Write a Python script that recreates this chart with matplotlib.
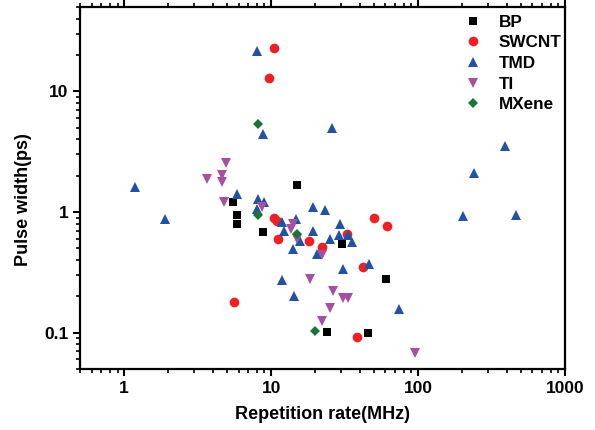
import numpy as np
import matplotlib
matplotlib.use("Agg")
import matplotlib.pyplot as plt
from matplotlib.ticker import FixedLocator, LogLocator, NullFormatter

plt.rcParams['font.family'] = ['Liberation Sans', 'DejaVu Sans']
plt.rcParams['font.weight'] = 'bold'

# repetition rate (MHz), pulse width (ps)
bp_x = [5.54, 5.90, 5.81, 8.74, 14.9, 30.2, 60.3, 23.9, 45.5]
bp_y = [1.20, 0.95, 0.80, 0.68, 1.66, 0.54, 0.28, 0.102, 0.10]

swcnt_x = [10.5, 9.6, 10.4, 10.9, 11.1, 18.0, 22.1, 49.9, 61.3, 32.7, 42.0, 5.63, 38.3]
swcnt_y = [22.9, 12.9, 0.90, 0.85, 0.60, 0.57, 0.51, 0.90, 0.76, 0.66, 0.35, 0.18, 0.092]

tmd_x = [1.19, 1.90, 5.81, 7.95, 8.74, 25.8, 8.08, 8.87, 7.95, 11.9, 12.2, 14.7, 19.2, 23.1,
         19.2, 29.3, 25.0, 28.8, 33.2, 35.3, 14.0, 20.4, 30.7, 46.2, 11.9, 14.4, 74.0,
         391, 240, 202, 465, 15.6]
tmd_y = [1.60, 0.87, 1.40, 21.6, 4.41, 4.94, 1.29, 1.22, 1.05, 0.83, 0.69, 0.88, 1.09, 1.03,
         0.69, 0.80, 0.60, 0.64, 0.65, 0.56, 0.49, 0.45, 0.34, 0.37, 0.275, 0.20, 0.158,
         3.50, 2.09, 0.92, 0.95, 0.58]

ti_x = [4.96, 3.68, 4.66, 4.66, 4.81, 8.6, 14.0, 13.6, 14.9, 22.1, 18.3, 26.2, 25.0, 30.7,
        33.2, 22.1, 95.1]
ti_y = [2.53, 1.86, 2.01, 1.76, 1.20, 1.09, 0.80, 0.72, 0.60, 0.44, 0.28, 0.22, 0.161, 0.195,
        0.195, 0.125, 0.068]

mxene_x = [8.2, 8.08, 15.1, 19.8]
mxene_y = [5.34, 0.95, 0.66, 0.104]

fig = plt.figure(figsize=(5.95, 4.3), dpi=100)
ax = fig.add_axes([80/595, 1-369/430, (565-80)/595, (369-7)/430])

ax.plot(bp_x, bp_y, 's', color='black', ms=6, mew=0, label='BP')
ax.plot(swcnt_x, swcnt_y, 'o', color='#ED2024', ms=7, mew=0, label='SWCNT')
ax.plot(tmd_x, tmd_y, '^', color='#2152A4', ms=7.5, mew=0, label='TMD')
ax.plot(ti_x, ti_y, 'v', color='#A750A1', ms=7.5, mew=0, label='TI')
ax.plot(mxene_x, mxene_y, 'D', color='#1B7535', ms=5.6, mew=0, label='MXene')

ax.set_xscale('log')
ax.set_yscale('log')
ax.set_xlim(0.5, 1000)
ax.set_ylim(0.05, 50)

ax.xaxis.set_major_locator(FixedLocator([1, 10, 100, 1000]))
ax.set_xticklabels(['1', '10', '100', '1000'])
ax.yaxis.set_major_locator(FixedLocator([0.1, 1, 10]))
ax.set_yticklabels(['0.1', '1', '10'])
ax.xaxis.set_minor_locator(LogLocator(base=10, subs=np.arange(2, 10)))
ax.yaxis.set_minor_locator(LogLocator(base=10, subs=np.arange(2, 10)))
ax.xaxis.set_minor_formatter(NullFormatter())
ax.yaxis.set_minor_formatter(NullFormatter())

ax.tick_params(which='both', direction='out', top=True, right=False, labelsize=12.5)
ax.tick_params(which='major', length=5, width=1.5)
ax.tick_params(which='minor', length=3, width=1.2)
for s in ax.spines.values():
    s.set_linewidth(1.6)

ax.set_xlabel('Repetition rate(MHz)', fontsize=13, fontweight='bold', labelpad=7)
ax.set_ylabel('Pulse width(ps)', fontsize=13, fontweight='bold')
ax.yaxis.set_label_coords(-0.099, 0.467)

ax.legend(loc='upper left', bbox_to_anchor=(0.759, 1.0), frameon=False, fontsize=12.3,
          handletextpad=0.5, labelspacing=0.33, borderaxespad=0.05)

fig.savefig('out.png', dpi=100)
